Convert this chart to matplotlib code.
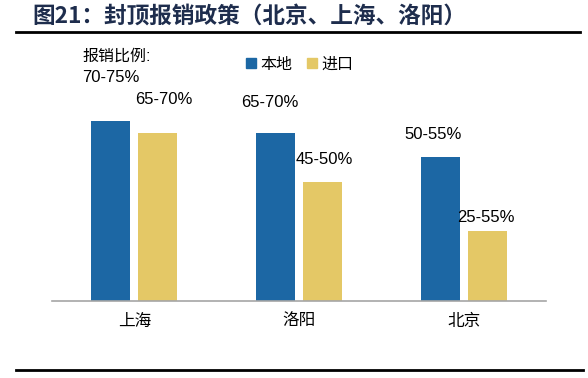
import matplotlib
matplotlib.use("Agg")
import matplotlib.pyplot as plt
from matplotlib.lines import Line2D
from matplotlib.patches import Patch
import numpy as np

plt.rcParams['font.family'] = ['Liberation Sans', 'Noto Sans CJK SC']

cities = ['上海', '洛阳', '北京']
local = [75, 70, 60]
imported = [70, 49.5, 29]
local_txt = ['70-75%', '65-70%', '50-55%']
imported_txt = ['65-70%', '45-50%', '25-55%']

blue = '#1c67a4'
gold = '#e4c866'

W, H = 588, 378
fig = plt.figure(figsize=(W / 100, H / 100), dpi=100)
ax = fig.add_axes([52 / W, 1 - 301 / H, (546 - 52) / W, (301 - 40) / H])

x = np.arange(len(cities))
w = 0.236
off = 0.1425
ax.bar(x - off, local, w, color=blue)
ax.bar(x + off, imported, w, color=gold)

# value labels: offsets in points from bar top centre
local_off = [(0, 31), (-4, 22), (-5, 16)]
imp_off = [(4, 24), (1, 16), (-1, 10)]
for i in range(len(cities)):
    ax.annotate(local_txt[i], (x[i] - off, local[i]), xytext=local_off[i],
                textcoords='offset points', ha='center', va='center', fontsize=12)
    ax.annotate(imported_txt[i], (x[i] + off, imported[i]), xytext=imp_off[i],
                textcoords='offset points', ha='center', va='center', fontsize=12)

ax.set_xlim(-0.5, 2.5)
ax.set_ylim(0, 108.75)
ax.set_xticks(x)
ax.set_xticklabels(cities, fontsize=12)
ax.tick_params(axis='x', length=0, pad=9)
ax.set_yticks([])
for s in ['top', 'right', 'left']:
    ax.spines[s].set_visible(False)
ax.spines['bottom'].set_color('#a6a6a6')
ax.spines['bottom'].set_linewidth(1.2)

fig.text(82 / W, 1 - 56 / H, '报销比例:', fontsize=11.5, ha='left', va='center')

handles = [Patch(color=blue, label='本地'), Patch(color=gold, label='进口')]
fig.legend(handles=handles, loc='center', bbox_to_anchor=(300 / W, 1 - 64 / H),
           ncol=2, frameon=False, fontsize=11.5, handlelength=0.6, handleheight=0.6,
           handletextpad=0.3, columnspacing=0.9)

fig.text(32 / W, 1 - 16 / H, '图21：封顶报销政策（北京、上海、洛阳）',
         fontsize=16.3, fontweight='bold', color='#1e2d4d', ha='left', va='center',
         family=['Noto Sans CJK SC'])

fig.add_artist(Line2D([16 / W, 580 / W], [1 - 32 / H, 1 - 32 / H], color='black', lw=2))
fig.add_artist(Line2D([16 / W, 583 / W], [1 - 370 / H, 1 - 370 / H], color='black', lw=2))

fig.savefig('out.png', dpi=100)
